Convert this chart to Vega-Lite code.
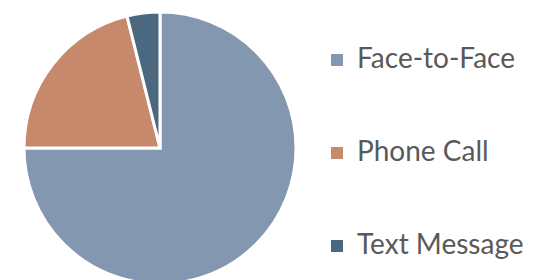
{
  "$schema": "https://vega.github.io/schema/vega-lite/v6.json",
  "width": 320,
  "height": 280,
  "padding": {"left": 0, "top": 6, "right": 0, "bottom": 0},
  "background": "white",
  "data": {
    "values": [
      {"mode": "Face-to-Face", "share": 75.0, "order": 1},
      {"mode": "Phone Call", "share": 21.1, "order": 2},
      {"mode": "Text Message", "share": 3.9, "order": 3}
    ]
  },
  "mark": {"type": "arc", "outerRadius": 136, "stroke": "white", "strokeWidth": 3},
  "encoding": {
    "theta": {"field": "share", "type": "quantitative", "stack": true},
    "order": {"field": "order", "type": "quantitative", "sort": "ascending"},
    "color": {
      "field": "mode",
      "type": "nominal",
      "sort": ["Face-to-Face", "Phone Call", "Text Message"],
      "scale": {"domain": ["Face-to-Face", "Phone Call", "Text Message"], "range": ["#8497B0", "#C6896B", "#4C687F"]},
      "legend": {
        "orient": "none",
        "legendX": 323,
        "legendY": 38,
        "title": null,
        "padding": 0,
        "symbolType": "square",
        "symbolSize": 144,
        "symbolStrokeWidth": 0,
        "symbolOpacity": 1,
        "labelFont": "Lato",
        "labelFontSize": 28,
        "labelColor": "#595959",
        "labelOffset": 6,
        "labelLimit": 300,
        "rowPadding": 65
      }
    }
  },
  "config": {"view": {"stroke": null}}
}
